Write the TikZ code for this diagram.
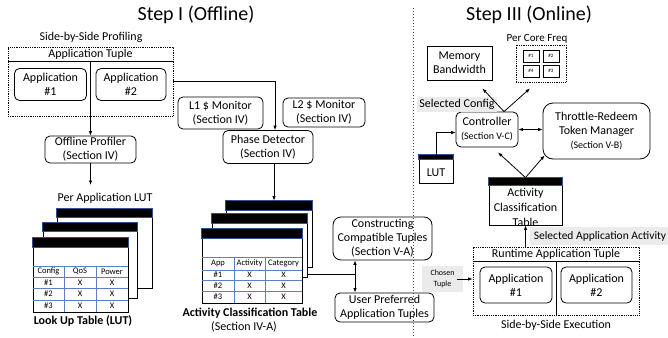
\documentclass[tikz,border=0pt]{standalone}
\usepackage{fontspec}
\setmainfont{Carlito}
\usetikzlibrary{arrows.meta,positioning,calc}
\definecolor{gridblue}{HTML}{5B7FC7}
\definecolor{headblue}{HTML}{2F4F8F}
\definecolor{taggray}{HTML}{EBEBEB}
\newcommand{\fsz}[2]{\fontsize{#1}{#2}\selectfont}
\tikzset{
  box/.style={
    draw=black,
    line width=0.8pt,
    rounded corners=5pt,
    fill=white,
    align=center,
    inner sep=1pt,
    font=\fsz{12}{14}
  },
  plainbox/.style={box, rounded corners=0pt},
  tuple/.style={draw=black, line width=0.8pt, densely dotted},
  sheet/.style={draw=black, line width=0.8pt, fill=white, inner sep=0pt},
  edge/.style={-{Latex[length=4.5pt,width=3.5pt]}, line width=0.8pt},
  twoway/.style={{Latex[length=4.5pt,width=3.5pt]}-{Latex[length=4.5pt,width=3.5pt]}, line width=0.8pt},
  tag/.style={fill=taggray, inner sep=2pt, align=center, font=\fsz{11.5}{13}},
  caption/.style={font=\fsz{12}{14}, align=center},
  cell/.style={font=\fsz{8.5}{10}, inner sep=0pt},
  gridline/.style={draw=gridblue, line width=0.8pt}
}
% one sheet of a table stack: name, x, y, width, height, header height
\newcommand{\drawsheet}[6]{%
  \node[sheet, minimum width=#4pt, minimum height=#5pt] (#1) at (#2,#3) {};
  \filldraw[fill=black, draw=headblue, line width=0.6pt] (#1.north west) rectangle ([yshift=-#6pt]#1.north east);}

\begin{document}
\begin{tikzpicture}[x=1pt, y=-1pt]
  \useasboundingbox (0,0) rectangle (668,337);
  \node[font=\fsz{20}{24}] (offtitle) at (196,15) {Step I (Offline)};
  \node[font=\fsz{20}{24}] (ontitle) at (529,15) {Step III (Online)};

  % offline profiling
  \node[caption] (proflabel) at (91,37) {Side-by-Side Profiling};
  \node[tuple, minimum width=165pt, minimum height=69pt] (proftuple) at (90.5,81.5) {};
  \node[caption] (proftitle) at (90.5,54.5) {Application Tuple};
  \draw[line width=0.8pt] ([yshift=-15pt]proftuple.north west) -- ([yshift=-15pt]proftuple.north east);
  \draw[line width=0.8pt] ([yshift=-15pt]proftuple.north) -- (proftuple.south);
  \node[box, minimum width=72pt, minimum height=32pt] (papp1) at (50.5,84.5) {Application\\\#1};
  \node[box, minimum width=70pt, minimum height=32pt] (papp2) at (131,84.5) {Application\\\#2};
  \node[box, minimum width=91pt, minimum height=27pt] (profiler) at (90.5,149.5) {Offline Profiler\\(Section IV)};
  \draw[edge] (proftuple.south) -- (profiler.north);
  \coordinate (lutin) at (90.5,185);
  \draw[edge] (profiler.south) -- (lutin);
  \node[caption] (lutlabel) at (105,198) {Per Application LUT};

  \drawsheet{lutback}{104.5}{248.5}{95}{79}{9}
  \drawsheet{lutmid}{90}{260.5}{94}{75}{9}
  \drawsheet{lutfront}{80.5}{275}{95}{74}{10}
  \foreach \y in {266,277,288,300}
    \draw[gridline] (lutfront.west |- 0,\y) -- (lutfront.east |- 0,\y);
  \foreach \x in {64,96}
    \draw[gridline] (\x,266) -- (lutfront.south -| \x,0);
  \foreach \name/\x in {Config/48.5, QoS/80, Power/112}
    \node[cell] (lut\name) at (\x,271.5) {\name};
  \foreach \r/\y in {1/282.5, 2/294, 3/306} {
    \node[cell] (lutc\r) at (48.5,\y) {\#\r};
    \node[cell] (lutq\r) at (80,\y) {X};
    \node[cell] (lutp\r) at (112,\y) {X};
  }
  \node[font=\bfseries\fsz{12}{14}] (lutcap) at (83,321) {Look Up Table (LUT)};

  % phase detection
  \node[box, minimum width=85pt, minimum height=32pt] (l1mon) at (220.5,113) {L1 \$ Monitor\\(Section IV)};
  \node[box, minimum width=82pt, minimum height=29pt] (l2mon) at (324,112.5) {L2 \$ Monitor\\(Section IV)};
  \node[box, minimum width=90pt, minimum height=33pt] (detector) at (268,147) {Phase Detector\\(Section IV)};
  \draw[edge] (proftuple.east) -| ([xshift=7pt]detector.north);

  \drawsheet{actback}{269}{234}{86}{66}{10}
  \drawsheet{actmid}{259.5}{245.5}{95}{63}{10}
  \drawsheet{actfront}{252}{266}{100}{74}{10}
  \draw[edge] ([xshift=6pt]detector.south) -- ([xshift=6pt]detector.south |- actback.north);
  \foreach \y in {257,270,280,291}
    \draw[gridline] (actfront.west |- 0,\y) -- (actfront.east |- 0,\y);
  \foreach \x in {234,265}
    \draw[gridline] (\x,257) -- (actfront.south -| \x,0);
  \foreach \name/\x in {App/218, Activity/249.5, Category/283.5}
    \node[cell] (act\name) at (\x,263.5) {\name};
  \foreach \r/\y in {1/275, 2/285.5, 3/297} {
    \node[cell] (acta\r) at (218,\y) {\#\r};
    \node[cell] (actv\r) at (249.5,\y) {X};
    \node[cell] (actc\r) at (283.5,\y) {X};
  }
  \node[font=\bfseries\fsz{12}{14}] (actcap) at (250,313) {Activity Classification Table};
  \node[caption] (actsec) at (244,327) {(Section IV-A)};

  % tuple construction
  \node[box, rounded corners=8pt, minimum width=99pt, minimum height=43pt] (construct) at (382.5,238.5) {Constructing\\Compatible Tuples\\(Section V-A)};
  \node[box, minimum width=99pt, minimum height=29pt] (userpref) at (384.5,307.5) {User Preferred\\Application Tuples};
  \coordinate (tuplejoin) at (355,274);
  \draw[line width=0.8pt] (actmid.east |- tuplejoin) -- (tuplejoin);
  \draw[twoway] (tuplejoin |- construct.south) -- (tuplejoin |- userpref.north);

  % online
  \node[plainbox, minimum width=65pt, minimum height=34pt] (membw) at (459.5,63) {Memory\\Bandwidth};
  \node[caption, font=\fsz{11}{13}] (freqlabel) at (537,39) {Per Core Freq};
  \node[tuple, minimum width=50pt, minimum height=37pt] (freq) at (541,63.5) {};
  \foreach \c/\x/\y in {1/531/56, 2/551/56, 4/531/71, 3/551/71}
    \node[draw, line width=0.6pt, minimum width=16pt, minimum height=12pt, inner sep=0pt, font=\fsz{5}{6}] (core\c) at (\x,\y) {\#\c};
  \node[box, minimum width=62pt, minimum height=35pt] (ctrl) at (487,129.5) {Controller\\{\fsz{10}{12}(Section V-C)}};
  \node[box, rounded corners=10pt, minimum width=107pt, minimum height=56pt] (tokens) at (596.5,131) {Throttle-Redeem\\Token Manager\\{\fsz{10}{12}(Section V-B)}};
  \node[tag, font=\fsz{12}{14}] (selcfg) at (457,104.5) {Selected Config};
  \draw[edge] ([xshift=17pt]ctrl.north) -- ([xshift=-10pt,yshift=-8pt]membw.south east);
  \draw[edge] ([xshift=17pt]ctrl.north) -- ([xshift=-11pt,yshift=-6pt]freq.south);
  \draw[twoway] (ctrl.east) -- (ctrl.east -| tokens.west);

  \drawsheet{lutsmall}{436}{169}{34}{28}{5}
  \node[caption] (lutsmalltext) at (436,173) {LUT};
  \draw[edge] (lutsmall.north) |- ([yshift=-3pt]ctrl.west);

  \drawsheet{actsmall}{525.5}{201.5}{73}{47}{8}
  \node[caption, font=\fsz{12}{15}] (actsmalltext) at (525.5,207) {Activity\\Classification\\Table};
  \draw[edge] (actsmall.north) -- ([xshift=11pt,yshift=-5pt]ctrl.south);
  \draw[edge] (actsmall.north) -- ([xshift=2pt,yshift=4pt]tokens.south west);

  \node[tuple, minimum width=166pt, minimum height=68pt] (rttuple) at (556,281) {};
  \node[caption] (rttitle) at (556,254.5) {Runtime Application Tuple};
  \draw[line width=0.8pt] ([yshift=-15pt]rttuple.north west) -- ([yshift=-15pt]rttuple.north east);
  \draw[line width=0.8pt] ([yshift=-15pt]rttuple.north) -- (rttuple.south);
  \node[box, minimum width=72pt, minimum height=36pt] (rapp1) at (516,285) {Application\\\#1};
  \node[box, minimum width=71pt, minimum height=36pt] (rapp2) at (596.5,285) {Application\\\#2};
  \node[caption] (execlabel) at (556,325) {Side-by-Side Execution};
  \node[tag, inner xsep=4pt, minimum height=18pt] (selact) at (600,236) {Selected Application Activity};
  \draw[edge] (actsmall.south |- rttuple.north) -- (actsmall.south);
  \node[tag, font=\fsz{8}{11}, minimum width=41pt, minimum height=26pt] (chosen) at (442.5,279) {Chosen\\Tuple};
  \draw[edge] ([xshift=-6pt]chosen.east) -- (chosen.east -| rttuple.west);

  \draw[dotted, line width=1pt, black!70] (413,8) -- (413,337);
\end{tikzpicture}
\end{document}
